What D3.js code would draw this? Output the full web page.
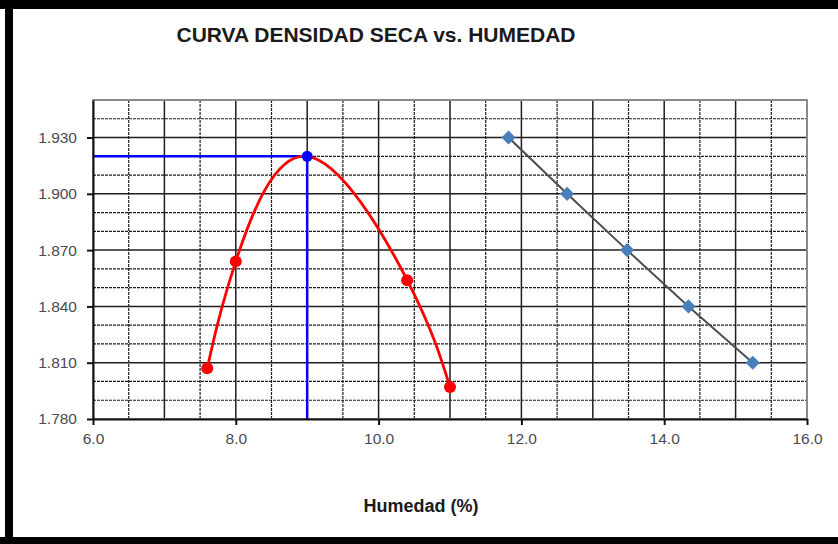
<!DOCTYPE html>
<html>
<head>
<meta charset="utf-8">
<script src="https://cdn.jsdelivr.net/npm/d3@7"></script>
<style>
  body { margin: 0; background: #fff; }
  svg { display: block; font-family: "Liberation Sans", Arial, sans-serif; }
</style>
</head>
<body>
<div id="chart"></div>
<script>
// puntos del ensayo (curva de compactacion)
var humedad = [7.6, 8.0, 10.4, 11.0];
var densidadSeca = [1.807, 1.864, 1.854, 1.797];

// optimo
var humedadOptima = 9.0;
var densidadMaxima = 1.920;

// linea de saturacion
var humedadSat = [11.82, 12.64, 13.48, 14.34, 15.24];
var densidadSat = [1.930, 1.900, 1.870, 1.840, 1.810];

var xTicks = [6, 8, 10, 12, 14, 16];
var yTicks = [1.780, 1.810, 1.840, 1.870, 1.900, 1.930];

var margin = {top: 100, right: 31, bottom: 125, left: 93},
    width = 838 - margin.left - margin.right,
    height = 544 - margin.top - margin.bottom;

var x = d3.scaleLinear()
    .domain([6, 16])
    .range([0, width]);

var y = d3.scaleLinear()
    .domain([1.780, 1.950])
    .range([height, 0]);

var svg = d3.select("#chart").append("svg")
    .attr("width", 838)
    .attr("height", 544);

// marco negro exterior
svg.append("rect").attr("x", 0).attr("y", 0).attr("width", 838).attr("height", 9).attr("fill", "#000");
svg.append("rect").attr("x", 5).attr("y", 0).attr("width", 8).attr("height", 544).attr("fill", "#000");
svg.append("rect").attr("x", 0).attr("y", 537).attr("width", 838).attr("height", 7).attr("fill", "#000");

svg.append("text")
    .attr("x", 376)
    .attr("y", 42)
    .attr("text-anchor", "middle")
    .style("font-size", "21px")
    .style("font-weight", "bold")
    .attr("fill", "#1a1a1a")
    .text("CURVA DENSIDAD SECA vs. HUMEDAD");

var g = svg.append("g")
    .attr("transform", "translate(" + margin.left + "," + margin.top + ")");

// grilla
var xGrid = x.ticks(20).filter(function(v) { return v > 6 && v < 16; });
var yGrid = y.ticks(17).filter(function(v) { return v > 1.781 && v < 1.949; });

function mayorY(d) { return Math.round((d - 1.78) * 100) % 3 === 0; }

g.append("g").selectAll("line").data(xGrid).enter().append("line")
    .attr("x1", function(d) { return x(d); })
    .attr("x2", function(d) { return x(d); })
    .attr("y1", 0)
    .attr("y2", height)
    .attr("stroke", "#1e1e1e")
    .attr("stroke-width", function(d) { return d % 1 === 0 ? 1.5 : 1.2; })
    .attr("stroke-dasharray", function(d) { return d % 1 === 0 ? null : "3,1"; });

g.append("g").selectAll("line").data(yGrid).enter().append("line")
    .attr("x1", 0)
    .attr("x2", width)
    .attr("y1", function(d) { return y(d); })
    .attr("y2", function(d) { return y(d); })
    .attr("stroke", "#1e1e1e")
    .attr("stroke-width", function(d) { return mayorY(d) ? 1.5 : 1.2; })
    .attr("stroke-dasharray", function(d) { return mayorY(d) ? null : "3,1"; });

g.append("rect")
    .attr("width", width)
    .attr("height", height)
    .attr("fill", "none")
    .attr("stroke", "#8a8a8a")
    .attr("stroke-width", 2);

// lineas del optimo
g.append("line")
    .attr("x1", x(6)).attr("x2", x(humedadOptima))
    .attr("y1", y(densidadMaxima)).attr("y2", y(densidadMaxima))
    .attr("stroke", "#0000ff").attr("stroke-width", 2.5);
g.append("line")
    .attr("x1", x(humedadOptima)).attr("x2", x(humedadOptima))
    .attr("y1", y(1.780)).attr("y2", y(densidadMaxima))
    .attr("stroke", "#0000ff").attr("stroke-width", 2.5);

// curva
var curva = humedad.map(function(h, i) { return [h, densidadSeca[i]]; });
curva.push([humedadOptima, densidadMaxima]);
curva.sort(function(a, b) { return a[0] - b[0]; });

var line = d3.line()
    .x(function(d) { return x(d[0]); })
    .y(function(d) { return y(d[1]); })
    .curve(d3.curveNatural);

g.append("path")
    .datum(curva)
    .attr("d", line)
    .attr("fill", "none")
    .attr("stroke", "#ff0000")
    .attr("stroke-width", 2.8);

g.selectAll(".punto").data(humedad).enter().append("circle")
    .attr("class", "punto")
    .attr("cx", function(d) { return x(d); })
    .attr("cy", function(d, i) { return y(densidadSeca[i]); })
    .attr("r", 6)
    .attr("fill", "#ff0000");

g.append("circle")
    .attr("cx", x(humedadOptima))
    .attr("cy", y(densidadMaxima))
    .attr("r", 5.5)
    .attr("fill", "#0000ff");

// saturacion
var sat = humedadSat.map(function(h, i) { return [h, densidadSat[i]]; });
g.append("path")
    .datum(sat)
    .attr("d", d3.line().x(function(d) { return x(d[0]); }).y(function(d) { return y(d[1]); }))
    .attr("fill", "none")
    .attr("stroke", "#4d4d4d")
    .attr("stroke-width", 2);

g.selectAll(".rombo").data(sat).enter().append("path")
    .attr("class", "rombo")
    .attr("d", d3.symbol(d3.symbolSquare, 100))
    .attr("transform", function(d) { return "translate(" + x(d[0]) + "," + y(d[1]) + ") rotate(45)"; })
    .attr("fill", "#4a7ebb");

// ejes
var xAxis = d3.axisBottom(x)
    .tickValues(xTicks)
    .tickSize(6)
    .tickSizeOuter(0)
    .tickPadding(8)
    .tickFormat(d3.format(".1f"));

var yAxis = d3.axisLeft(y)
    .tickValues(yTicks)
    .tickSize(6)
    .tickSizeOuter(0)
    .tickPadding(10)
    .tickFormat(d3.format(".3f"));

var gx = g.append("g")
    .attr("transform", "translate(0," + height + ")")
    .call(xAxis);

var gy = g.append("g")
    .call(yAxis);

[gx, gy].forEach(function(a) {
  a.select(".domain").attr("stroke", "#111").attr("stroke-width", 2);
  a.selectAll(".tick line").attr("stroke", "#111").attr("stroke-width", 2);
  a.selectAll(".tick text")
    .attr("fill", "#4a4a55")
    .style("font-size", "15.5px");
});

svg.append("text")
    .attr("x", 421)
    .attr("y", 512)
    .attr("text-anchor", "middle")
    .style("font-size", "18px")
    .style("font-weight", "bold")
    .attr("fill", "#1a1a1a")
    .text("Humedad (%)");
</script>
</body>
</html>
